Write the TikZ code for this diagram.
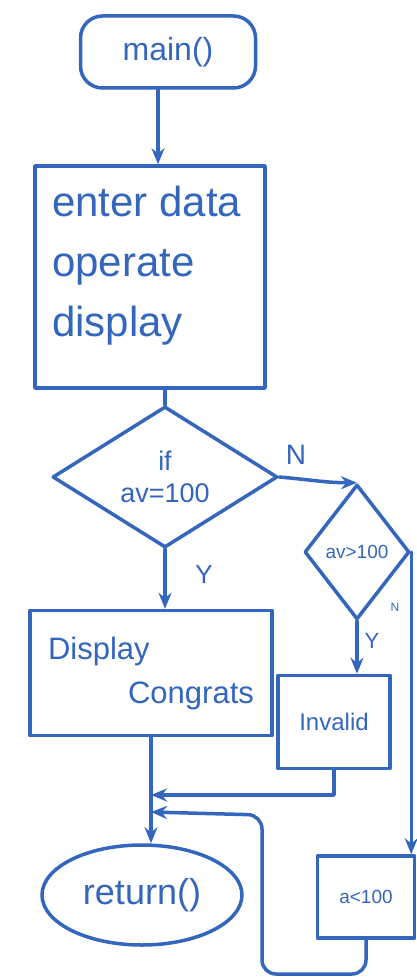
\documentclass[tikz,border=0pt]{standalone}
\usepackage{fontspec}
\setmainfont{Liberation Sans}
\usetikzlibrary{shapes.geometric,arrows.meta}
\definecolor{ink}{RGB}{52,102,190}
\tikzset{
  inkline/.style={draw=ink, line width=3.5pt, line cap=round, line join=round},
  flow/.style={inkline, -{Stealth[length=16pt,width=13pt]}},
  plain/.style={inkline},
  termbox/.style={inkline, rectangle, rounded corners=22pt, text=ink, inner sep=0pt},
  procbox/.style={inkline, rectangle, text=ink, inner sep=0pt},
  decbox/.style={inkline, diamond, text=ink, inner sep=0pt, align=center},
  ovalbox/.style={inkline, ellipse, text=ink, inner sep=0pt},
  lbl/.style={text=ink, inner sep=0pt},
}
\begin{document}
\begin{tikzpicture}[x=1pt,y=-1pt]
\useasboundingbox (0,0) rectangle (416,979);
\fill[white] (0,0) rectangle (416,979);

% nodes
\node[termbox, minimum width=175pt, minimum height=72pt, font=\fontsize{32}{34}\selectfont] (main) at (168,52) {main()};
\node[procbox, minimum width=230pt, minimum height=222pt] (proc) at (150,277) {};
\node[lbl, anchor=north west, align=left, font=\fontsize{42}{60}\selectfont] (proctext) at (52,186) {enter data\\operate\\display};
\node[decbox, minimum width=225pt, minimum height=137pt, font=\fontsize{27}{32}\selectfont] (dec) at (165,477) {if\\av=100};
\node[decbox, minimum width=105pt, minimum height=135pt, font=\fontsize{19}{20}\selectfont] (dec2) at (357,552) {av>100};
\node[procbox, minimum width=242pt, minimum height=125pt, align=left, font=\fontsize{31}{44}\selectfont] (disp) at (151,673) {Display\\\hspace*{80pt}Congrats};
\node[procbox, minimum width=112pt, minimum height=93pt, font=\fontsize{24}{26}\selectfont] (inv) at (334,722) {Invalid};
\node[ovalbox, minimum width=200pt, minimum height=100pt, font=\fontsize{36}{38}\selectfont] (ret) at (142,895) {return()};
\node[procbox, minimum width=97pt, minimum height=82pt, font=\fontsize{19}{20}\selectfont] (low) at (366,897) {a<100};

% labels
\node[lbl, font=\fontsize{28}{30}\selectfont] (nlab) at (296,455) {N};
\node[lbl, font=\fontsize{26}{28}\selectfont] (ylab) at (204,575) {Y};
\node[lbl, font=\fontsize{22}{24}\selectfont] (ylab2) at (372,641) {Y};
\node[lbl, font=\fontsize{12}{14}\selectfont] (nlab2) at (395,607) {N};

% junction points
\coordinate (j1) at (151,795);
\coordinate (j2) at (151,812);
\coordinate (b1) at (262,974);
\coordinate (b2) at (262,815);

% connectors
\draw[flow] (main.south -| proc.north) ++(8,0) coordinate (m1) -- (m1 |- proc.north);
\draw[plain] (dec.north |- proc.south) -- (dec.north);
\draw[flow] (dec.east) to[out=-5,in=180] (dec2.north);
\draw[flow] (dec.south) -- (disp.north -| dec.south);
\draw[flow] (dec2.south) -- (inv.north -| dec2.south);
\draw[flow] (dec2.east) -- (dec2.east |- low.north);
\draw[flow] (inv.south) |- (j1);
\draw[flow, rounded corners=14pt] (low.south) |- (b1) -- (b2) -- (j2);
\draw[flow] (disp.south) -- (disp.south |- ret.north);
\end{tikzpicture}
\end{document}
